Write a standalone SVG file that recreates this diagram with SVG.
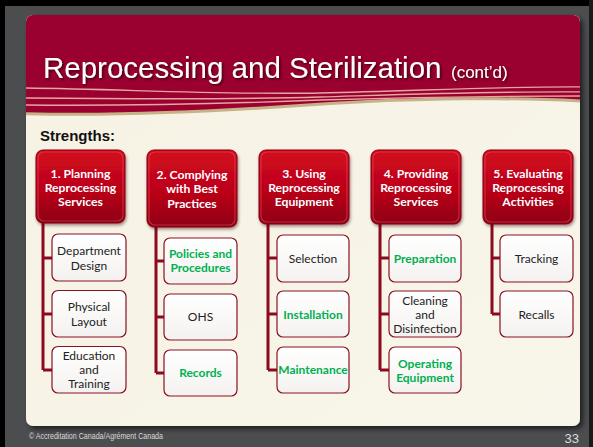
<svg xmlns="http://www.w3.org/2000/svg" width="593" height="447" viewBox="0 0 593 447">
<defs>
<linearGradient id="gHead" x1="0" y1="0" x2="0" y2="1">
<stop offset="0" stop-color="#d3091f"/>
<stop offset="0.55" stop-color="#bb0419"/>
<stop offset="1" stop-color="#8e0012"/>
</linearGradient>
<linearGradient id="gChild" x1="0" y1="0" x2="0" y2="1">
<stop offset="0" stop-color="#ffffff"/>
<stop offset="1" stop-color="#f4f2f0"/>
</linearGradient>
<linearGradient id="gPanel" x1="0" y1="0" x2="1" y2="1">
<stop offset="0" stop-color="#f6f2e4"/>
<stop offset="1" stop-color="#f8f6ea"/>
</linearGradient>
<filter id="shPanel" x="-5%" y="-5%" width="112%" height="112%">
<feDropShadow dx="3" dy="3" stdDeviation="2.5" flood-color="#000" flood-opacity="0.6"/>
</filter>
<filter id="shBox" x="-10%" y="-10%" width="125%" height="125%">
<feDropShadow dx="1" dy="2" stdDeviation="1.5" flood-color="#3a0008" flood-opacity="0.45"/>
</filter>
<filter id="shTitle" x="-5%" y="-20%" width="110%" height="150%">
<feDropShadow dx="1.5" dy="1.5" stdDeviation="0.8" flood-color="#3a0010" flood-opacity="0.9"/>
</filter>
<clipPath id="cPanel"><rect x="26" y="15" width="554" height="411" rx="7"/></clipPath>
</defs>
<style>
.title{font-family:"Liberation Sans",Arial,sans-serif;fill:#ffffff}
.head{font-family:Lato,"Open Sans",sans-serif;font-weight:bold;font-size:12.2px;fill:#ffffff;text-anchor:middle}
.child{font-family:Lato,"Open Sans",sans-serif;font-size:12px;fill:#222222;text-anchor:middle}
.green{font-family:Lato,"Open Sans",sans-serif;font-weight:bold;font-size:12px;fill:#00b050;text-anchor:middle}
.hbox{fill:url(#gHead);stroke:#86000f;stroke-width:1;filter:url(#shBox)}
.hbev{fill:none;stroke:#ee5a66;stroke-opacity:0.45;stroke-width:1.2}
.cbox{fill:url(#gChild);stroke:#8b1024;stroke-width:1.2}
.conn{fill:none;stroke:#8b0a1e;stroke-width:3}
.wl{fill:none;stroke:#e4a6a0;stroke-width:1.4}
</style>
<!-- background -->
<rect x="0" y="0" width="593" height="447" fill="#4b4d4f"/>
<rect x="0" y="0" width="593" height="6" fill="#000"/>
<rect x="0" y="0" width="5" height="447" fill="#000"/>
<rect x="589" y="0" width="4" height="447" fill="#1a1a1a"/>
<!-- panel -->
<rect x="26" y="15" width="554" height="411" rx="7" fill="url(#gPanel)" filter="url(#shPanel)"/>
<g clip-path="url(#cPanel)">
<path d="M20,10 H590 V103 C520,99 420,99 330,105 C230,112 120,118 20,115 Z" fill="#c7b287"/>
<path d="M20,10 H590 V100 C520,96 420,96 330,102 C230,109 120,115 20,112 Z" fill="#9a0030"/>
<path class="wl" d="M20,88 C120,89 220,95 320,93 C420,91 500,86 590,87"/>
<path class="wl" d="M20,98 C120,99 220,100 320,97 C420,94 500,91 590,92"/>
<path class="wl" d="M20,105 C120,106 220,104 320,100 C420,97 500,96 590,96"/>
</g>
<!-- title -->
<g filter="url(#shTitle)">
<text class="title" x="43" y="78" font-size="29.5">Reprocessing and Sterilization</text>
<text class="title" x="451" y="78" font-size="17">(cont’d)</text>
</g>
<text x="40" y="141" font-family="'Liberation Sans',Arial,sans-serif" font-weight="bold" font-size="15" fill="#111">Strengths:</text>
<!-- connectors -->
<g id="connectors">
<path class="conn" d="M43,222 V370 M43,258 H52 M43,314 H52 M43,370 H52"/>
<path class="conn" d="M156,226 V373 M156,261 H164 M156,317 H164 M156,373 H164"/>
<path class="conn" d="M268,224 V370 M268,258 H277 M268,314 H277 M268,370 H277"/>
<path class="conn" d="M380,224 V370 M380,258 H389 M380,314 H389 M380,370 H389"/>
<path class="conn" d="M492,224 V314 M492,258 H500 M492,314 H500"/>
</g>
<!-- header nodes -->
<g id="n1">
<rect class="hbox" x="36" y="150" width="89" height="73" rx="7"/>
<rect class="hbev" x="38" y="152" width="85" height="69" rx="6"/>
<text class="head" x="80.5" y="177.5">1. Planning</text>
<text class="head" x="80.5" y="191.5">Reprocessing</text>
<text class="head" x="80.5" y="205.5">Services</text>
</g>
<g id="n2">
<rect class="hbox" x="147" y="150" width="90" height="77" rx="7"/>
<rect class="hbev" x="149" y="152" width="86" height="73" rx="6"/>
<text class="head" x="192" y="178.5">2. Complying</text>
<text class="head" x="192" y="193">with Best</text>
<text class="head" x="192" y="207.5">Practices</text>
</g>
<g id="n3">
<rect class="hbox" x="259" y="150" width="90" height="74" rx="7"/>
<rect class="hbev" x="261" y="152" width="86" height="70" rx="6"/>
<text class="head" x="304" y="177.5">3. Using</text>
<text class="head" x="304" y="191.5">Reprocessing</text>
<text class="head" x="304" y="205.5">Equipment</text>
</g>
<g id="n4">
<rect class="hbox" x="371" y="150" width="90" height="74" rx="7"/>
<rect class="hbev" x="373" y="152" width="86" height="70" rx="6"/>
<text class="head" x="416" y="177.5">4. Providing</text>
<text class="head" x="416" y="191.5">Reprocessing</text>
<text class="head" x="416" y="205.5">Services</text>
</g>
<g id="n5">
<rect class="hbox" x="483" y="150" width="90" height="74" rx="7"/>
<rect class="hbev" x="485" y="152" width="86" height="70" rx="6"/>
<text class="head" x="528" y="177.5">5. Evaluating</text>
<text class="head" x="528" y="191.5">Reprocessing</text>
<text class="head" x="528" y="205.5">Activities</text>
</g>
<!-- child nodes col 1 -->
<g id="c1a"><rect class="cbox" x="52" y="234" width="74" height="47" rx="6"/>
<text class="child" x="89" y="254.5">Department</text><text class="child" x="89" y="269.5">Design</text></g>
<g id="c1b"><rect class="cbox" x="52" y="290.5" width="74" height="46.5" rx="6"/>
<text class="child" x="89" y="310.5">Physical</text><text class="child" x="89" y="325.5">Layout</text></g>
<g id="c1c"><rect class="cbox" x="52" y="346.5" width="74" height="46.5" rx="6"/>
<text class="child" x="89" y="359.5">Education</text><text class="child" x="89" y="373.5">and</text><text class="child" x="89" y="387.5">Training</text></g>
<!-- col 2 -->
<g id="c2a"><rect class="cbox" x="164" y="238" width="73" height="46" rx="6"/>
<text class="green" x="200.5" y="257.5">Policies and</text><text class="green" x="200.5" y="271.5">Procedures</text></g>
<g id="c2b"><rect class="cbox" x="164" y="294" width="73" height="46" rx="6"/>
<text class="child" x="200.5" y="320.5">OHS</text></g>
<g id="c2c"><rect class="cbox" x="164" y="350" width="73" height="46" rx="6"/>
<text class="green" x="200.5" y="376.5">Records</text></g>
<!-- col 3 -->
<g id="c3a"><rect class="cbox" x="277" y="235" width="72" height="47" rx="6"/>
<text class="child" x="313" y="262.5">Selection</text></g>
<g id="c3b"><rect class="cbox" x="277" y="291" width="72" height="46" rx="6"/>
<text class="green" x="313" y="318.5">Installation</text></g>
<g id="c3c"><rect class="cbox" x="277" y="347" width="72" height="46" rx="6"/>
<text class="green" x="313" y="374" font-size="10.5px">Maintenance</text></g>
<!-- col 4 -->
<g id="c4a"><rect class="cbox" x="389" y="235" width="72" height="47" rx="6"/>
<text class="green" x="425" y="262.5">Preparation</text></g>
<g id="c4b"><rect class="cbox" x="389" y="291" width="72" height="46" rx="6"/>
<text class="child" x="425" y="304.5">Cleaning</text><text class="child" x="425" y="318.5">and</text><text class="child" x="425" y="332.5">Disinfection</text></g>
<g id="c4c"><rect class="cbox" x="389" y="347" width="72" height="46" rx="6"/>
<text class="green" x="425" y="367.5">Operating</text><text class="green" x="425" y="381.5">Equipment</text></g>
<!-- col 5 -->
<g id="c5a"><rect class="cbox" x="500" y="235" width="73" height="47" rx="6"/>
<text class="child" x="536.5" y="262.5">Tracking</text></g>
<g id="c5b"><rect class="cbox" x="500" y="291" width="73" height="46" rx="6"/>
<text class="child" x="536.5" y="318.5">Recalls</text></g>
<!-- footer -->
<text x="29" y="439" font-family="'Liberation Sans',Arial,sans-serif" font-size="9" fill="#d8d8d8" textLength="134" lengthAdjust="spacingAndGlyphs">© Accreditation Canada/Agrément Canada</text>
<text x="579" y="443" font-family="'Liberation Sans',Arial,sans-serif" font-size="13" fill="#dddddd" text-anchor="end">33</text>
</svg>
